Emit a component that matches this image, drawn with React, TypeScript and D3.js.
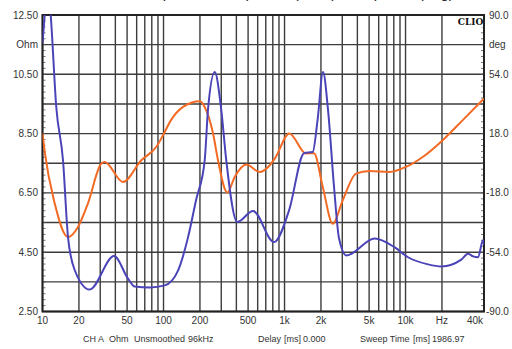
import React from 'react'
import * as d3 from 'd3'

// impedance modulus (Ohm)
const ohmFreq = [10, 10.43, 11.06, 11.69, 13.0, 14.77, 16.25, 18.45, 24.55, 39, 50.9, 57.8, 77.3, 102.3, 131.8, 159.4, 185.6, 219, 233, 265, 300, 330, 407, 549, 819, 1090, 1449, 1710, 1880, 2080, 2288, 2565, 2820, 3243, 5563, 8146, 10490, 15350, 19770, 28910, 32880, 36130, 39720, 43670, 44500]
const ohmValues = [11.55, 12.5, 13.6, 12.5, 9.39, 7.6, 5.0, 3.9, 3.24, 4.37, 3.61, 3.34, 3.31, 3.38, 3.88, 5.0, 6.25, 7.6, 9.3, 10.58, 9.3, 7.6, 5.52, 5.89, 4.84, 5.91, 7.84, 7.88, 9.0, 10.58, 9.3, 6.7, 4.97, 4.39, 4.96, 4.66, 4.33, 4.09, 4.02, 4.25, 4.45, 4.36, 4.33, 4.9, 4.75]

// phase (deg)
const degFreq = [10, 10.43, 12.61, 16.25, 19.65, 23.77, 30.6, 32.66, 46.3, 65.5, 87.9, 99.1, 115.3, 145, 199, 219, 256.5, 282, 336.7, 387.5, 483, 624, 755, 834, 1096, 1506, 1753, 2070, 2502, 3027, 3899, 5022, 7345, 10090, 13870, 20290, 29710, 44500]
const degValues = [18.1, 7, -24.3, -44.8, -38.7, -24.3, -0.2, 0.8, -11.4, 1.8, 10.3, 17.0, 26.2, 34.2, 37.7, 34.2, 18.2, 1.8, -17.8, -8.3, -0.8, -5.3, -1.2, 3.0, 18.1, 5.9, 6.1, -14.4, -36.7, -22.5, -6.3, -4.7, -5.3, -2.2, 3.8, 14.0, 26.2, 39.3]

const leftTicks = [12.5, 11.5, 10.5, 8.5, 6.5, 4.5, 2.5]
const leftLabels = ['12.50', 'Ohm', '10.50', '8.50', '6.50', '4.50', '2.50']
const rightTicks = [90, 72, 54, 18, -18, -54, -90]
const rightLabels = ['90.0', 'deg', '54.0', '18.0', '-18.0', '-54.0', '-90.0']
const freqTicks = [10, 20, 50, 100, 200, 500, 1000, 2000, 5000, 10000, 20000, 40000]
const freqLabels = ['10', '20', '50', '100', '200', '500', '1k', '2k', '5k', '10k', 'Hz', '40k']

const footer = [
  ['CH A', 83], ['Ohm', 109], ['Unsmoothed', 134], ['96kHz', 188],
  ['Delay', 258], ['[ms]', 284], ['0.000', 303],
  ['Sweep Time', 360], ['[ms]', 413], ['1986.97', 432],
] as const

const W = 512
const H = 349
const plot = { left: 42.5, right: 484, top: 15, bottom: 311.5 }

export default function App() {
  const x = d3.scaleLog().domain([10, 44500]).range([plot.left, plot.right])
  const yOhm = d3.scaleLinear().domain([2.5, 12.5]).range([plot.bottom, plot.top])
  const yDeg = d3.scaleLinear().domain([-90, 90]).range([plot.bottom, plot.top])

  // vertical grid: 1..9 per decade, then 10k and 20k
  const vGrid: number[] = []
  for (const dec of [10, 100, 1000]) for (let k = 1; k < 10; k++) vGrid.push(dec * k)
  vGrid.push(10000, 20000)
  const hGrid = d3.range(2.5, 12.51, 1)
  const minor = d3.range(2.5, 12.51, 0.2)

  const ohmLine = d3.line<number>()
    .x((_, i) => x(ohmFreq[i]))
    .y(d => yOhm(d))
    .curve(d3.curveMonotoneX)
  const degLine = d3.line<number>()
    .x((_, i) => x(degFreq[i]))
    .y(d => yDeg(d))
    .curve(d3.curveMonotoneX)

  const font = 'Liberation Sans, Arial, sans-serif'
  const txt = '#333'

  return (
    <svg width={W} height={H} style={{ position: 'absolute', left: 0, top: 0, background: '#fff' }}>
      <defs>
        <clipPath id="plotclip">
          <rect x={plot.left} y={plot.top} width={plot.right - plot.left} height={plot.bottom - plot.top} />
        </clipPath>
      </defs>

      {/* title sits mostly above the visible area, as in the reference crop */}
      <text x={300} y={-2} textAnchor="middle" fontFamily={font} fontSize={15} fill="#222">
        Impedance amplitude (Ohm), and phase (deg)
      </text>

      {hGrid.map(v => (
        <line key={'h' + v} x1={plot.left} x2={plot.right} y1={yOhm(v)} y2={yOhm(v)} stroke="#3c3c3c" strokeWidth={1.4} />
      ))}
      {vGrid.map(f => (
        <line key={'v' + f} x1={x(f)} x2={x(f)} y1={plot.top} y2={plot.bottom} stroke="#3c3c3c" strokeWidth={1.4} />
      ))}
      {minor.map(v => (
        <g key={'m' + v}>
          <line x1={plot.left} x2={plot.left + 3} y1={yOhm(v)} y2={yOhm(v)} stroke="#555" strokeWidth={0.8} />
          <line x1={plot.right - 3} x2={plot.right} y1={yOhm(v)} y2={yOhm(v)} stroke="#555" strokeWidth={0.8} />
        </g>
      ))}
      <rect x={plot.left} y={plot.top} width={plot.right - plot.left} height={plot.bottom - plot.top}
        fill="none" stroke="#222" strokeWidth={2} />

      <g clipPath="url(#plotclip)">
        <path d={degLine(degValues) || ''} fill="none" stroke="#f26a24" strokeWidth={2} />
        <path d={ohmLine(ohmValues) || ''} fill="none" stroke="#4b44b8" strokeWidth={2} />
      </g>

      <rect x={458} y={16} width={25} height={11} fill="#fff" />
      <text x={470.5} y={25} textAnchor="middle" fontFamily="DejaVu Serif, serif" fontWeight="bold" fontSize={9} fill="#111">CLIO</text>

      {leftTicks.map((v, i) => (
        <text key={'l' + i} x={38} y={yOhm(v) + 3.5} textAnchor="end" fontFamily={font} fontSize={10} fill={txt}>{leftLabels[i]}</text>
      ))}
      {rightTicks.map((v, i) => (
        <text key={'r' + i} x={rightLabels[i].startsWith('-') ? 486 : 489} y={yDeg(v) + 3.5} fontFamily={font} fontSize={10} fill={txt}>{rightLabels[i]}</text>
      ))}
      {freqTicks.map((f, i) => (
        <text key={'f' + i} x={i === freqTicks.length - 1 ? 475 : x(f)} y={324} textAnchor="middle" fontFamily={font} fontSize={10} fill={txt}>{freqLabels[i]}</text>
      ))}
      {footer.map(([s, px], i) => (
        <text key={'t' + i} x={px} y={342} fontFamily={font} fontSize={9} fill={txt}>{s}</text>
      ))}
    </svg>
  )
}
